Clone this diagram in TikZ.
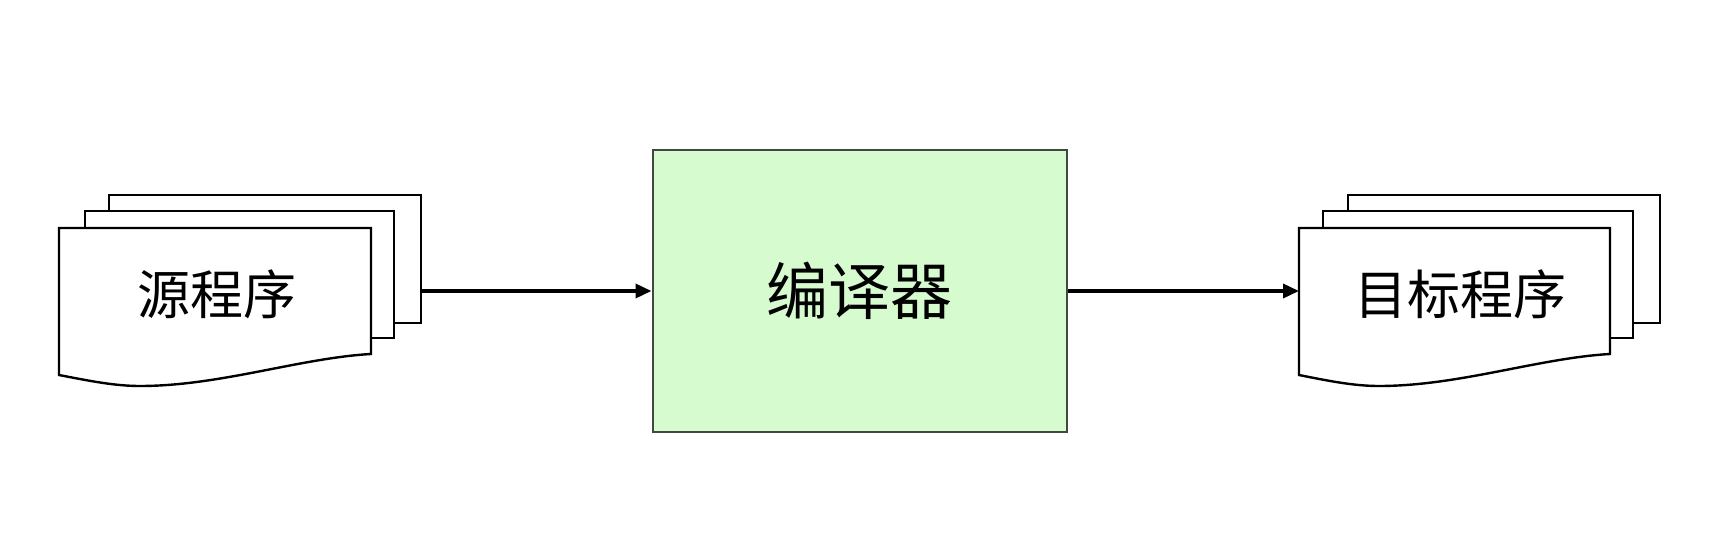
\documentclass[tikz,border=0pt]{standalone}
\usepackage{fontspec}
\newfontfamily\cjk{Noto Sans CJK SC}
\usetikzlibrary{arrows.meta}
\definecolor{compfill}{RGB}{213,251,206}
\definecolor{compborder}{RGB}{64,72,64}
\begin{document}
\begin{tikzpicture}[x=1pt,y=-1pt,
  sheet/.style={draw=black,line width=2.4pt,fill=white},
  rectsheet/.style={sheet,rectangle,anchor=north west,inner sep=0pt,outer sep=0pt},
  conn/.style={line width=3.5pt,-{Triangle[length=16pt,width=14pt]}},
  doclbl/.style={font=\cjk\fontsize{53}{62}\selectfont,inner sep=0pt},
  complbl/.style={font=\cjk\fontsize{62}{72}\selectfont}]
\useasboundingbox (0,0) rectangle (1726,540);
% source program stack
\node[rectsheet,minimum width=312pt,minimum height=128pt] (srcback) at (109,195) {};
\node[rectsheet,minimum width=309pt,minimum height=127pt] (srcmid) at (85,211) {};
\draw[sheet] (59,375) -- (59,228) -- (371,228) -- (371,354)
  .. controls (300,358) and (220,386) .. (140,386)
  .. controls (115,386) and (90,381) .. cycle;
\node[doclbl] (srclbl) at (217,294) {源程序};
% compiler
\node[draw=compborder,fill=compfill,line width=2.4pt,minimum width=414pt,minimum height=282pt,inner sep=0pt,complbl] (comp) at (859.7,291) {编译器};
% target program stack
\node[rectsheet,minimum width=312pt,minimum height=128pt] (tgtback) at (1348,195) {};
\node[rectsheet,minimum width=310pt,minimum height=127pt] (tgtmid) at (1323,211) {};
\draw[sheet] (1299,375) -- (1299,228) -- (1610,228) -- (1610,354)
  .. controls (1539,358) and (1459,386) .. (1379,386)
  .. controls (1354,386) and (1329,381) .. cycle;
\node[doclbl] (tgtlbl) at (1460,294) {目标程序};
\coordinate (tgtleft) at (1299,291);
% connectors
\draw[conn] (srcback.east |- comp.west) -- (comp.west);
\draw[conn] (comp.east) -- (tgtleft);
\end{tikzpicture}
\end{document}
